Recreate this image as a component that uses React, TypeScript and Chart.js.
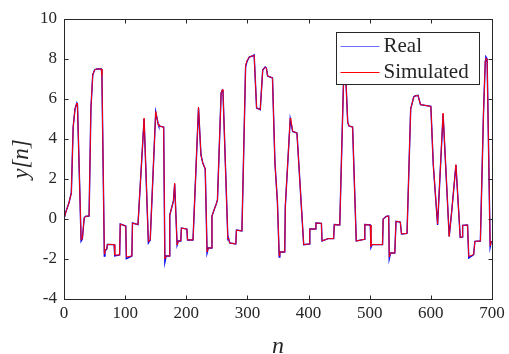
import React, { useEffect, useRef } from "react";
import { Chart, registerables } from "chart.js";

Chart.register(...registerables);

// sample index n (shared by both series)
const nValues = [
  0, 3, 8, 12, 15, 18, 21, 22, 28, 30,
  33, 35, 41, 44, 47, 50, 53, 61, 62, 66,
  67, 70, 71, 82, 83, 91, 92, 101, 102, 111,
  112, 121, 131, 138, 141, 150, 154, 155, 163, 165,
  167, 172, 173, 179, 181, 185, 187, 191, 192, 201,
  202, 211, 220, 224, 227, 231, 234, 236, 241, 242,
  246, 249, 251, 257, 259, 260, 268, 269, 271, 281,
  282, 291, 297, 299, 303, 308, 311, 315, 321, 325,
  329, 331, 333, 341, 345, 349, 352, 353, 361, 362,
  370, 371, 374, 381, 392, 401, 402, 411, 412, 421,
  422, 432, 441, 442, 451, 457, 459, 461, 464, 466,
  472, 478, 491, 492, 501, 502, 504, 521, 522, 527,
  531, 532, 534, 541, 543, 550, 552, 561, 567, 572,
  574, 579, 583, 600, 604, 611, 620, 630, 634, 641,
  648, 651, 652, 660, 662, 670, 672, 681, 686, 689,
  690, 692, 697, 699,
];

const realValues = [
  0, 0.35, 0.8, 1.3, 4.6, 5.5, 5.8, 5.75, -1.1, -1.0,
  0.05, 0.13, 0.15, 5.5, 7.2, 7.45, 7.5, 7.5, 7.2, -1.85,
  -1.6, -1.5, -1.27, -1.28, -1.85, -1.8, -0.25, -0.35, -1.98, -1.85,
  -0.2, -0.28, 5.0, -1.2, -1.05, 5.35, 4.75, 4.65, 4.6, -2.15,
  -1.85, -1.85, 0.2, 0.9, 1.75, -1.3, -1.1, -1.1, -0.45, -0.5,
  -1.05, -1.05, 5.55, 3.2, 2.8, 2.5, -1.7, -1.45, -1.45, 0.15,
  0.5, 0.75, 0.95, 6.3, 6.45, 6.4, -1.0, -0.95, -1.2, -1.25,
  -0.55, -0.6, 7.6, 7.85, 8.1, 8.15, 8.2, 5.55, 5.47, 7.45,
  7.6, 7.55, 7.15, 7.05, 2.8, 0.9, -1.9, -1.65, -1.65, 0.65,
  5.0, 5.0, 4.38, 4.3, -1.28, -1.25, -0.5, -0.5, -0.2, -0.22,
  -1.1, -0.98, -0.98, -0.28, -0.3, 6.7, 8.35, 7.0, 4.85, 4.65,
  4.6, -1.1, -1.02, -0.28, -0.3, -1.42, -1.28, -1.28, 0.0, 0.13,
  0.15, -1.98, -1.7, -1.7, -0.12, -0.15, -0.75, -0.72, 5.5, 6.1,
  6.15, 6.18, 5.72, 5.63, 2.7, -0.3, 5.25, -0.87, 0.35, 2.7,
  -0.92, -0.9, -0.32, -0.3, -1.95, -1.78, -1.12, -1.1, 5.2, 7.9,
  8.1, 8.0, -1.4, -1.1,
];

const simValues = [
  0, 0.35, 0.8, 1.3, 4.6, 5.5, 5.8, 5.75, -1.05, -1.0,
  0.05, 0.13, 0.15, 5.5, 7.2, 7.45, 7.5, 7.5, 7.2, -1.75,
  -1.55, -1.5, -1.27, -1.28, -1.8, -1.8, -0.25, -0.35, -1.9, -1.85,
  -0.2, -0.28, 5.05, -1.15, -1.05, 5.38, 4.75, 4.65, 4.6, -2.0,
  -1.85, -1.85, 0.2, 0.9, 1.8, -1.3, -1.1, -1.1, -0.45, -0.5,
  -1.05, -1.05, 5.6, 3.2, 2.8, 2.5, -1.65, -1.45, -1.45, 0.15,
  0.5, 0.75, 0.95, 6.3, 6.47, 6.4, -1.0, -0.95, -1.2, -1.25,
  -0.55, -0.6, 7.65, 7.9, 8.1, 8.15, 8.2, 5.55, 5.47, 7.45,
  7.6, 7.55, 7.15, 7.05, 2.8, 0.9, -1.85, -1.65, -1.65, 0.65,
  5.05, 5.0, 4.38, 4.3, -1.28, -1.25, -0.5, -0.5, -0.2, -0.22,
  -1.1, -0.98, -0.98, -0.28, -0.3, 6.7, 8.3, 7.0, 4.85, 4.65,
  4.6, -1.1, -1.02, -0.28, -0.3, -1.37, -1.28, -1.28, 0.0, 0.13,
  0.15, -1.9, -1.7, -1.7, -0.12, -0.15, -0.75, -0.72, 5.5, 6.1,
  6.15, 6.18, 5.72, 5.63, 2.7, -0.25, 5.3, -0.87, 0.35, 2.72,
  -0.92, -0.9, -0.32, -0.3, -1.87, -1.78, -1.12, -1.1, 5.2, 7.9,
  8.05, 8.0, -1.35, -1.1,
];

const xTicks = [0, 100, 200, 300, 400, 500, 600, 700];
const yTicks = [-4, -2, 0, 2, 4, 6, 8, 10];
const seriesNames = ["Real", "Simulated"];
const seriesColors = ["#0000ff", "#ff0000"];

const AXIS_COLOR = "#262626";
const SERIF = "'Liberation Serif', 'DejaVu Serif', serif";

Chart.defaults.font.family = SERIF;

const framePlugin = {
  id: "matlabFrame",
  afterDatasetsDraw(chart: any) {
    const { ctx, chartArea: a, scales } = chart;
    ctx.save();
    ctx.strokeStyle = AXIS_COLOR;
    ctx.lineWidth = 1;
    const L = a.left + 0.5, R = a.right + 0.5, T = a.top + 0.5, B = a.bottom + 0.5;
    const tl = 4;
    ctx.beginPath();
    xTicks.forEach((v) => {
      const x = Math.round(scales.x.getPixelForValue(v)) + 0.5;
      ctx.moveTo(x, B); ctx.lineTo(x, B - tl);
      ctx.moveTo(x, T); ctx.lineTo(x, T + tl);
    });
    yTicks.forEach((v) => {
      const y = Math.round(scales.y.getPixelForValue(v)) + 0.5;
      ctx.moveTo(L, y); ctx.lineTo(L + tl, y);
      ctx.moveTo(R, y); ctx.lineTo(R - tl, y);
    });
    ctx.stroke();
    ctx.strokeRect(L, T, R - L, B - T);

    // legend box (top-right, inside axes)
    const bw = 143, bh = 52;
    const bx = Math.round(a.right - 13 - bw) + 0.5;
    const by = Math.round(a.top + 13) + 0.5;
    ctx.fillStyle = "#ffffff";
    ctx.fillRect(bx, by, bw, bh);
    ctx.strokeStyle = AXIS_COLOR;
    ctx.strokeRect(bx, by, bw, bh);
    ctx.font = `21px ${SERIF}`;
    ctx.textBaseline = "middle";
    ctx.textAlign = "left";
    seriesNames.forEach((name, i) => {
      const cy = by + 13 + i * 26;
      ctx.strokeStyle = i === 0 ? "#6f6fff" : seriesColors[1];
      ctx.lineWidth = 1;
      ctx.beginPath();
      ctx.moveTo(bx + 4, Math.round(cy) + 0.5);
      ctx.lineTo(bx + 43, Math.round(cy) + 0.5);
      ctx.stroke();
      ctx.fillStyle = AXIS_COLOR;
      ctx.fillText(name, bx + 47, cy + 1);
    });
    ctx.restore();
  },
};

export default function App() {
  const ref = useRef<HTMLCanvasElement | null>(null);

  useEffect(() => {
    const canvas = ref.current;
    if (!canvas) return;
    const realData = nValues.map((n, i) => ({ x: n, y: realValues[i] }));
    const simData = nValues.map((n, i) => ({ x: n, y: simValues[i] }));
    const chart = new Chart(canvas, {
      type: "line",
      data: {
        datasets: [
          {
            label: seriesNames[0],
            data: realData,
            borderColor: seriesColors[0],
            borderWidth: 1.4,
            pointRadius: 0,
            tension: 0,
            fill: false,
            order: 2,
          },
          {
            label: seriesNames[1],
            data: simData,
            borderColor: seriesColors[1],
            borderWidth: 1,
            pointRadius: 0,
            tension: 0,
            fill: false,
            order: 1,
          },
        ],
      },
      options: {
        animation: false,
        responsive: false,
        maintainAspectRatio: false,
        devicePixelRatio: 1,
        layout: { padding: { left: 0, right: 17, top: 19, bottom: 0 } },
        plugins: {
          legend: { display: false },
          tooltip: { enabled: false },
        },
        scales: {
          x: {
            type: "linear",
            min: 0,
            max: 700,
            afterBuildTicks: (s: any) => {
              s.ticks = xTicks.map((v) => ({ value: v }));
            },
            afterFit: (s: any) => {
              s.height = 55;
            },
            grid: { display: false, drawTicks: false },
            border: { display: false },
            ticks: {
              color: AXIS_COLOR,
              font: { family: SERIF, size: 17 },
              padding: 4,
              maxRotation: 0,
              autoSkip: false,
            },
            title: {
              display: true,
              text: "n",
              color: AXIS_COLOR,
              font: { family: SERIF, size: 24, style: "italic", lineHeight: 1 },
              padding: { top: 0, bottom: -5 },
            },
          },
          y: {
            type: "linear",
            min: -4,
            max: 10,
            afterBuildTicks: (s: any) => {
              s.ticks = yTicks.map((v) => ({ value: v }));
            },
            afterFit: (s: any) => {
              s.width = 64;
            },
            grid: { display: false, drawTicks: false },
            border: { display: false },
            ticks: {
              color: AXIS_COLOR,
              font: { family: SERIF, size: 17 },
              padding: 7,
              autoSkip: false,
            },
            title: {
              display: true,
              text: "y[n]",
              color: AXIS_COLOR,
              font: { family: SERIF, size: 23, style: "italic", lineHeight: 1 },
              padding: { top: 10, bottom: 0 },
            },
          },
        },
      },
      plugins: [framePlugin],
    });
    return () => chart.destroy();
  }, []);

  return (
    <div style={{ position: "fixed", left: 0, top: 0, width: 509, height: 354, background: "#fff" }}>
      <canvas ref={ref} width={509} height={354} style={{ display: "block", width: 509, height: 354 }} />
    </div>
  );
}
